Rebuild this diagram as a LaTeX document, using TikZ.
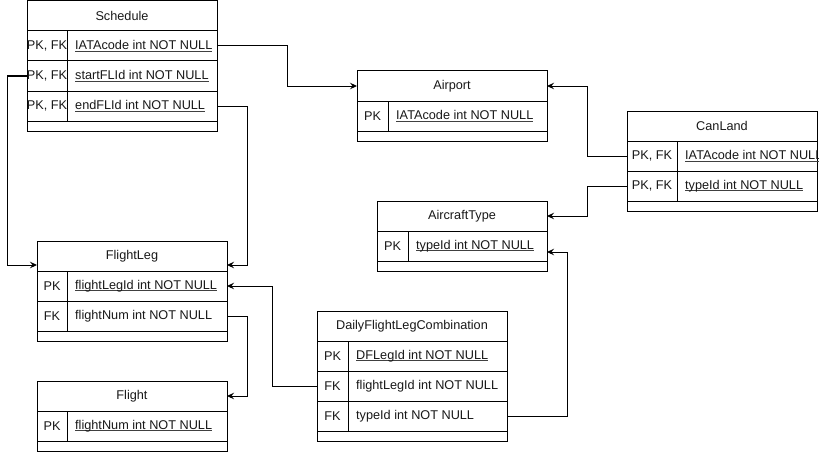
\documentclass[tikz,border=0pt]{standalone}
\usepackage{fontspec}
\setmainfont{Liberation Sans}
\usetikzlibrary{calc,arrows.meta}
\newcommand\ulx[1]{\setbox0\hbox{#1}\rlap{\color{black!75}\rule[-2pt]{\wd0}{0.8pt}}\box0}
\tikzset{
  every node/.style={font=\fontsize{12.7}{14}\selectfont, text=black!90},
  cellbox/.style={draw=black, line width=1pt, inner sep=0pt, outer sep=0pt, minimum height=30pt},
  footbox/.style={draw=black, line width=1pt, inner sep=0pt, outer sep=0pt, minimum height=10pt},
  keytxt/.style={inner sep=0pt, anchor=center},
  valtxt/.style={inner sep=0pt, anchor=west},
  rule/.style={line width=1pt},
  fk/.style={line width=1pt, -{Stealth[length=7pt,width=6.5pt,inset=2.5pt]}}
}
% \ertitle{name}{x}{y}{W}{title}
\newcommand\ertitle[5]{\node[cellbox, minimum width=#4pt, anchor=north west] (#1) at (#2,#3) {#5};}
% \errow{name}{x}{y}{W}{kw}{key}{value}
\newcommand\errow[7]{%
  \node[cellbox, minimum width=#4pt, anchor=north west] (#1) at (#2,#3) {};
  \node[keytxt] (#1k) at ($(#1.west)+(#5/2,0)$) {#6};
  \node[valtxt] (#1v) at ($(#1.west)+(#5+8,0)$) {#7};
  \draw[rule] ($(#1.north west)+(#5,0)$) -- ($(#1.south west)+(#5,0)$);}
% \erfoot{name}{x}{y}{W}
\newcommand\erfoot[4]{\node[footbox, minimum width=#4pt, anchor=north west] (#1) at (#2,#3) {};}
\begin{document}
\begin{tikzpicture}[x=1pt,y=-1pt]
\fill[white] (0,0) rectangle (819,452);
\useasboundingbox (0,0) rectangle (819,452);

% Schedule
\ertitle{sh}{27}{1}{190}{Schedule}
\errow{s1}{27}{31}{190}{40}{PK, FK}{\ulx{IATAcode int NOT NULL}}
\errow{s2}{27}{61}{190}{40}{PK, FK}{\ulx{startFLId int NOT NULL}}
\errow{s3}{27}{91}{190}{40}{PK, FK}{\ulx{endFLId int NOT NULL}}
\erfoot{sf}{27}{121}{190}

% Airport
\ertitle{aph}{357}{71}{190}{Airport}
\errow{ap1}{357}{101}{190}{31}{PK}{\ulx{IATAcode int NOT NULL}}
\erfoot{apf}{357}{131}{190}

% CanLand
\ertitle{clh}{627}{111}{190}{CanLand}
\errow{cl1}{627}{141}{190}{50}{PK, FK}{\ulx{IATAcode int NOT NULL}}
\errow{cl2}{627}{171}{190}{50}{PK, FK}{\ulx{typeId int NOT NULL}}
\erfoot{clf}{627}{201}{190}

% AircraftType
\ertitle{ath}{377}{201}{170}{AircraftType}
\errow{at1}{377}{231}{170}{31}{PK}{\ulx{typeId int NOT NULL}}
\erfoot{atf}{377}{261}{170}

% FlightLeg
\ertitle{flh}{37}{241}{190}{FlightLeg}
\errow{fl1}{37}{271}{190}{30}{PK}{\ulx{flightLegId int NOT NULL}}
\errow{fl2}{37}{301}{190}{30}{FK}{flightNum int NOT NULL}
\erfoot{flf}{37}{331}{190}

% Flight
\ertitle{fh}{37}{381}{190}{Flight}
\errow{f1}{37}{411}{190}{30}{PK}{\ulx{flightNum int NOT NULL}}
\erfoot{ff}{37}{441}{190}

% DailyFlightLegCombination
\ertitle{dh}{317}{311}{190}{DailyFlightLegCombination}
\errow{d1}{317}{341}{190}{31}{PK}{\ulx{DFLegId int NOT NULL}}
\errow{d2}{317}{371}{190}{31}{FK}{flightLegId int NOT NULL}
\errow{d3}{317}{401}{190}{31}{FK}{typeId int NOT NULL}
\erfoot{df}{317}{431}{190}

% connectors
\draw[fk] (s1.east) -- ++(70,0) |- (aph.west);
\draw[fk] (s2.west) -- ++(-20,0) |- ($(flh.west)+(0,9)$);
\draw[fk] (s3.east) -- ++(30,0) |- ($(flh.east)+(0,9)$);
\draw[fk] (cl1.west) -- ++(-40,0) |- (aph.east);
\draw[fk] (cl2.west) -- ++(-40,0) |- (ath.east);
\draw[fk] (d3.east) -- ++(60,0) |- ($(at1.east)+(0,6)$);
\draw[fk] (d2.west) -- ++(-45,0) |- (fl1.east);
\draw[fk] (fl2.east) -- ++(20,0) |- (fh.east);
\end{tikzpicture}
\end{document}
